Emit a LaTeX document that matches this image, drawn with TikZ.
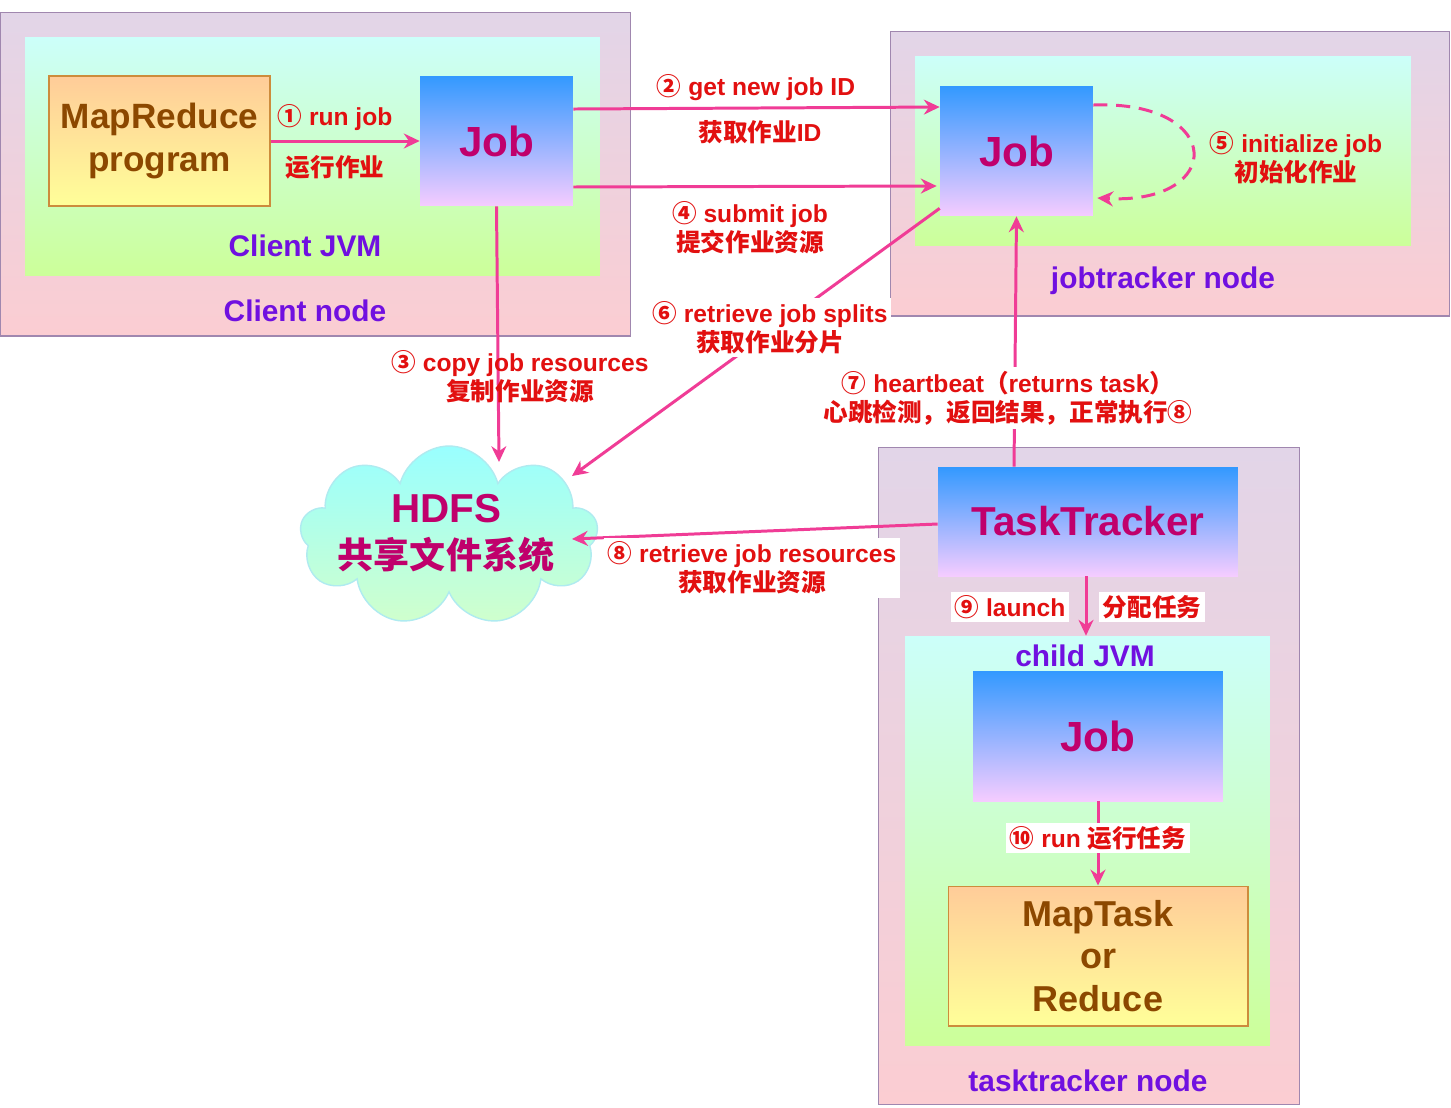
\documentclass[tikz,border=0pt]{standalone}
\usepackage{fontspec}
\setmainfont{Liberation Sans}
\newfontfamily\cjk{Noto Sans CJK SC}
\newcommand\zh[1]{{\cjk #1}}
\usetikzlibrary{arrows.meta,shapes.symbols}
\definecolor{lblred}{RGB}{226,16,16}
\definecolor{purp}{RGB}{112,16,224}
\definecolor{jobtxt}{RGB}{192,0,108}
\definecolor{brown}{RGB}{140,72,0}
\definecolor{arr}{RGB}{240,60,150}
\definecolor{outtop}{RGB}{226,213,232}
\definecolor{outbot}{RGB}{251,205,210}
\definecolor{outline}{RGB}{160,135,175}
\definecolor{jvmtop}{RGB}{204,255,250}
\definecolor{jvmbot}{RGB}{204,255,153}
\definecolor{jobtop}{RGB}{51,153,255}
\definecolor{jobbot}{RGB}{245,204,255}
\definecolor{ortop}{RGB}{255,204,153}
\definecolor{orbot}{RGB}{255,255,153}
\definecolor{orline}{RGB}{205,140,60}
\definecolor{cltop}{RGB}{153,255,255}
\definecolor{clbot}{RGB}{208,255,204}
\definecolor{clline}{RGB}{175,235,240}
\begin{document}
\begin{tikzpicture}[x=0.02cm,y=-0.02cm,
  outerbox/.style={draw=outline, line width=0.6pt, top color=outtop, bottom color=outbot, inner sep=0pt},
  jvmbox/.style={top color=jvmtop, bottom color=jvmbot, inner sep=0pt},
  jobbox/.style={top color=jobtop, bottom color=jobbot, inner sep=0pt, text=jobtxt, font=\bfseries\fontsize{24}{28}\selectfont},
  orbox/.style={draw=orline, line width=0.6pt, top color=ortop, bottom color=orbot, inner sep=0pt, text=brown, align=center},
  reg/.style={text=purp, font=\bfseries\fontsize{17}{20}\selectfont, inner sep=0pt},
  lbl/.style={text=lblred, font=\bfseries\fontsize{14}{16.5}\selectfont, align=center, inner sep=1pt},
  wlbl/.style={lbl, fill=white, inner sep=2pt},
  conn/.style={draw=arr, line width=1.7pt, -{Stealth[length=9pt,width=8.5pt]}},
  dconn/.style={draw=arr, line width=1.7pt, dash pattern=on 8pt off 5pt, -{Stealth[length=9pt,width=8.5pt]}}
]
\useasboundingbox (0,0) rectangle (1451,1107);
\fill[white] (0,0) rectangle (1451,1107);

% regions
\node[outerbox, minimum width=12.62cm, minimum height=6.48cm] (cnode) at (315.5,174) {};
\node[jvmbox, minimum width=11.5cm, minimum height=4.78cm] (cjvm) at (312.5,156.5) {};
\node[outerbox, minimum width=11.2cm, minimum height=5.7cm] (jnode) at (1170,173.5) {};
\node[jvmbox, minimum width=9.92cm, minimum height=3.8cm] (jjvm) at (1163,151) {};
\node[outerbox, minimum width=8.44cm, minimum height=13.16cm] (tnode) at (1089,776) {};
\node[jvmbox, minimum width=7.3cm, minimum height=8.2cm] (tjvm) at (1087.5,841) {};

% boxes
\node[orbox, minimum width=4.42cm, minimum height=2.6cm, font=\bfseries\fontsize{20}{24}\selectfont] (mr) at (159.5,141) {MapReduce\\program};
\node[jobbox, minimum width=3.06cm, minimum height=2.6cm] (cjob) at (496.5,141) {Job};
\node[jobbox, minimum width=3.06cm, minimum height=2.6cm] (jjob) at (1016.5,151) {Job};
\node[jobbox, minimum width=6cm, minimum height=2.18cm, font=\bfseries\fontsize{23}{28}\selectfont] (tt) at (1088,521.5) {TaskTracker};
\node[jobbox, minimum width=5cm, minimum height=2.6cm] (tjob) at (1098,736) {Job};
\node[orbox, minimum width=6cm, minimum height=2.8cm, font=\bfseries\fontsize{20.5}{24}\selectfont] (mt) at (1098,956) {MapTask\\or\\Reduce};

% cloud
\node[cloud, cloud puffs=9, cloud ignores aspect, minimum width=5.96cm, minimum height=3.6cm,
      draw=clline, line width=0.8pt, top color=cltop, bottom color=clbot, inner sep=0pt] (hdfs) at (449,536) {};
\node[text=jobtxt, align=center, inner sep=0pt] (hdfstxt) at (446,533)
  {{\bfseries\fontsize{23}{26}\selectfont HDFS}\\[7pt]{\bfseries\fontsize{20.5}{24}\selectfont\zh{共享文件系统}}};

% region labels
\node[reg] (lcjvm) at (305,246) {Client JVM};
\node[reg] (lcnode) at (305,311) {Client node};
\node[reg] (ljnode) at (1163,281) {jobtracker node};
\node[reg] (ltjvm) at (1085,656) {child JVM};
\node[reg] (ltnode) at (1088,1081) {tasktracker node};

% connectors
\draw[conn] (mr.east) -- (cjob.west);
\draw[conn] ([yshift=0.64cm]cjob.east) -- ([yshift=0.88cm]jjob.west);
\draw[conn] ([yshift=-0.92cm]cjob.east) -- ([yshift=-0.7cm,xshift=-0.06cm]jjob.west);
\draw[conn] (cjob.south) -- ([xshift=1.0cm,yshift=1.48cm]hdfs.center);
\draw[conn] ([yshift=0.16cm]jjob.south west) -- ([xshift=2.46cm,yshift=1.2cm]hdfs.center);
\draw[dconn] ([yshift=0.92cm]jjob.east) .. controls +(132,-5) and +(128,7) .. ([yshift=-0.94cm,xshift=0.08cm]jjob.east);
\draw[conn] ([xshift=-1.48cm]tt.north) -- (jjob.south);
\draw[conn] ([yshift=-0.05cm]tt.west) -- ([xshift=2.46cm,yshift=-0.06cm]hdfs.center);
\draw[conn] ([xshift=-0.04cm]tt.south) -- ([xshift=-0.04cm]tt.south |- tjvm.north);
\draw[conn] (tjob.south) -- (mt.north);

% labels
\node[lbl] (l1a) at (335,118) {\zh{①} run job};
\node[lbl] (l1b) at (335,167) {\zh{运行作业}};
\node[lbl] (l2a) at (756,88) {\zh{②} get new job ID};
\node[lbl] (l2b) at (760,132) {\zh{获取作业}ID};
\node[lbl] (l4) at (750,227.5) {\zh{④} submit job\\\zh{提交作业资源}};
\node[wlbl] (l6) at (770,327.5) {\zh{⑥} retrieve job splits\\\zh{获取作业分片}};
\node[lbl] (l3) at (520,377) {\zh{③} copy job resources\\\zh{复制作业资源}};
\node[lbl] (l5) at (1296,157.5) {\zh{⑤} initialize job\\\zh{初始化作业}};
\node[wlbl] (l7) at (1008,398) {\zh{⑦} heartbeat\zh{（}returns task\zh{）}\\\zh{心跳检测，返回结果，正常执行⑧}};
\node[wlbl] (l8) at (752,568) {\zh{⑧} retrieve job resources\\\zh{获取作业资源}};
\node[wlbl] (l9a) at (1010,607) {\zh{⑨} launch};
\node[wlbl] (l9b) at (1152,607) {\zh{分配任务}};
\node[wlbl] (l10) at (1098,838) {\zh{⑩} run \zh{运行任务}};
\end{tikzpicture}
\end{document}
